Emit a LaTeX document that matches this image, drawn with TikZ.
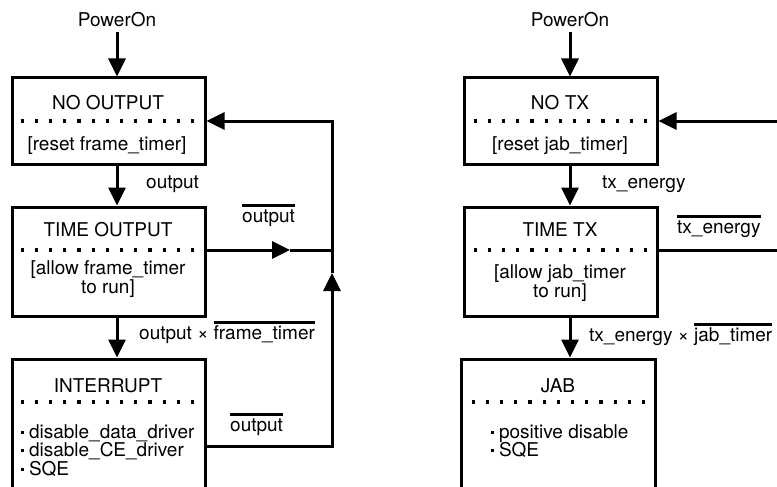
\documentclass[tikz,border=0pt]{standalone}
\usepackage{fontspec}
\setmainfont{TeX Gyre Heros}
\usetikzlibrary{arrows.meta}
\newcommand\ovl[1]{\setbox0\hbox{#1}\rlap{\raisebox{15.5pt}{\rule{\wd0}{2.5pt}}}\box0}
\newcommand\bul{\raisebox{4.5pt}{\rule{2.8pt}{2.8pt}}\hspace{5pt}}
\tikzset{
  box/.style={draw, line width=3pt, minimum width=193pt, inner sep=0pt},
  lbl/.style={anchor=base, inner sep=0pt, font=\fontsize{19}{19}\selectfont},
  lblw/.style={lbl, anchor=base west},
  conn/.style={line width=3pt},
  arr/.style={line width=3pt, -{Triangle[length=18pt,width=17pt]}},
  dots/.style={line width=3.2pt, line cap=butt, dash pattern=on 3.2pt off 11pt},
}
\begin{document}
\begin{tikzpicture}[x=1pt,y=-1pt]
\useasboundingbox (0,0) rectangle (777,487);
\clip (0,0) rectangle (777,487);
% ---------- left diagram ----------
\node[lbl] (p1) at (117,27) {PowerOn};
\node[box, minimum height=86pt] (no1) at (108.5,121) {};
\node[box, minimum height=109pt] (to1) at (108.5,261.5) {};
\node[box, minimum height=180pt] (in1) at (108.5,449) {};
\node[lbl] (t1a) at (108,110) {NO OUTPUT};
\node[lbl] (t1b) at (107,150) {[reset frame\_timer]};
\node[lbl] (t2a) at (108,236) {TIME OUTPUT};
\node[lbl] (t2b) at (108,274) {[allow frame\_timer};
\node[lbl] (t2c) at (108,293) {to run]};
\node[lbl] (t3a) at (108,392) {INTERRUPT};
\node[lblw] (t3b) at (21,438) {\bul disable\_data\_driver};
\node[lblw] (t3c) at (21,456.5) {\bul disable\_CE\_driver};
\node[lblw] (t3d) at (21,475) {\bul SQE};
\draw[dots] (20.5,121) -- (205,121);
\draw[dots] (20.5,250) -- (205,250);
\draw[dots] (20.5,402) -- (205,402);
\node[lblw] (l1) at (146,188) {output};
\node[lblw] (l2) at (242,222) {\ovl{output}};
\node[lblw] (l3) at (139,339) {output \texttimes\ \ovl{frame\_timer}};
\node[lblw] (l4) at (230,431) {\ovl{output}};
\coordinate (ax) at (290,250);
\coordinate (jx) at (332,250);
\coordinate (tp) at (332,121);
\coordinate (bt) at (332,446);
\coordinate (md) at (332,273);
\draw[arr] (p1.south |- 0,32) -- (p1.south |- no1.north);
\draw[arr] (no1.south -| p1.south) -- (to1.north -| p1.south);
\draw[arr] (to1.south -| p1.south) -- (in1.north -| p1.south);
\draw[arr] (to1.east |- ax) -- (ax);
\draw[conn] (ax) -- (jx);
\draw[arr] (in1.east |- bt) -- (bt) -- (md);
\draw[arr] (md) -- (tp) -- (no1.east |- tp);
% ---------- right diagram ----------
\node[lbl] (p2) at (570,27) {PowerOn};
\node[box, minimum height=86pt] (no2) at (560.5,121) {};
\node[box, minimum height=109pt] (to2) at (560.5,261.5) {};
\node[box, minimum width=194pt, minimum height=180pt] (in2) at (558.5,449) {};
\node[lbl] (s1a) at (560,110) {NO TX};
\node[lbl] (s1b) at (560,150) {[reset jab\_timer]};
\node[lbl] (s2a) at (560,236) {TIME TX};
\node[lbl] (s2b) at (560,278) {[allow jab\_timer};
\node[lbl] (s2c) at (560,297) {to run]};
\node[lbl] (s3a) at (558,392) {JAB};
\node[lblw] (s3b) at (491,438) {\bul positive disable};
\node[lblw] (s3c) at (491,456.5) {\bul SQE};
\draw[dots] (473.5,121) -- (657,121);
\draw[dots] (473.5,250) -- (657,250);
\draw[dots] (471.5,402) -- (655,402);
\node[lblw] (m1) at (602,188) {tx\_energy};
\node[lblw] (m2) at (677,233) {\ovl{tx\_energy}};
\node[lblw] (m3) at (589,341) {tx\_energy \texttimes\ \ovl{jab\_timer}};
\coordinate (re1) at (778,121);
\coordinate (re2) at (778,250);
\draw[arr] (p2.south |- 0,32) -- (p2.south |- no2.north);
\draw[arr] (no2.south -| p2.south) -- (to2.north -| p2.south);
\draw[arr] (to2.south -| p2.south) -- (in2.north -| p2.south);
\draw[arr] (re1) -- (no2.east |- re1);
\draw[conn] (to2.east |- re2) -- (re2);
\end{tikzpicture}
\end{document}
